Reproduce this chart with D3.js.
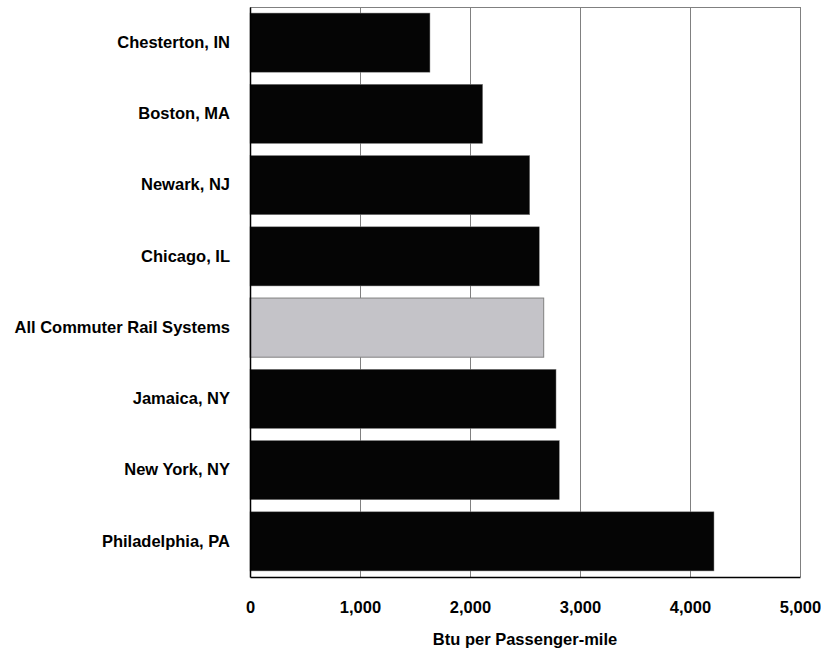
<!DOCTYPE html>
<html lang="en">
<head>
    <meta charset="UTF-8">
    <title>Btu per Passenger-mile</title>
    <script src="https://cdn.jsdelivr.net/npm/d3@7"></script>
    <style>
        body { margin: 0; background: #fff; }
        text { font-family: "Liberation Sans", Arial, sans-serif; font-weight: bold; fill: #000; }
    </style>
</head>
<body>
<script>
    let width = 821;
    let height = 652;

    // systems, top to bottom
    var cities = ["Chesterton, IN", "Boston, MA", "Newark, NJ", "Chicago, IL",
        "All Commuter Rail Systems", "Jamaica, NY", "New York, NY", "Philadelphia, PA"];
    var btu = [1636, 2115, 2543, 2630, 2670, 2782, 2812, 4218];
    var xTicks = [0, 1000, 2000, 3000, 4000, 5000];
    var highlight = "All Commuter Rail Systems";

    var margin = {top: 7, right: 21, bottom: 75, left: 250};
    var fontSize = "16.5px";

    var svg = d3.select("body").append("svg")
        .attr("width", width)
        .attr("height", height)

    var x = d3.scaleLinear()
        .domain([0, 5000])
        .range([margin.left, width - margin.right]);

    var y = d3.scaleBand()
        .domain(cities)
        .range([margin.top, height - margin.bottom])
        .paddingInner(0.17)
        .paddingOuter(0.085);

    // gridlines
    svg.append("g")
        .selectAll("line")
        .data(xTicks.slice(1))
        .enter()
        .append("line")
        .attr("x1", function (d) { return x(d) + 0.5; })
        .attr("x2", function (d) { return x(d) + 0.5; })
        .attr("y1", margin.top)
        .attr("y2", height - margin.bottom)
        .attr("stroke", "#808080")
        .attr("stroke-width", 1);

    // top border
    svg.append("line")
        .attr("x1", margin.left).attr("x2", width - margin.right)
        .attr("y1", margin.top + 0.5).attr("y2", margin.top + 0.5)
        .attr("stroke", "#808080");

    // bars
    svg.append("g")
        .selectAll("rect")
        .data(cities)
        .enter()
        .append("rect")
        .attr("x", x(0))
        .attr("y", function (d) { return y(d); })
        .attr("width", function (d, i) { return x(btu[i]) - x(0); })
        .attr("height", y.bandwidth())
        .attr("fill", function (d) { return d === highlight ? "#c4c3c8" : "#050505"; })
        .attr("stroke", "#808080")
        .attr("stroke-width", function (d) { return d === highlight ? 1 : 0.5; });

    // x axis
    var xAxis = svg.append("g")
        .attr("transform", "translate(0," + (height - margin.bottom) + ")")
        .call(d3.axisBottom(x).tickValues(xTicks).tickSize(0).tickPadding(24)
            .tickFormat(d3.format(",")));
    xAxis.select(".domain").attr("stroke", "#000").attr("stroke-width", 1.5);
    xAxis.selectAll("text").style("font-size", fontSize).attr("fill", "#000");

    // y axis
    var yAxis = svg.append("g")
        .attr("transform", "translate(" + margin.left + ",0)")
        .call(d3.axisLeft(y).tickSize(0).tickPadding(20));
    yAxis.select(".domain").attr("stroke", "#000").attr("stroke-width", 1.5);
    yAxis.selectAll("text").style("font-size", fontSize).attr("fill", "#000");

    // axis title
    svg.append("text")
        .attr("x", (x(0) + x(5000)) / 2)
        .attr("y", 645)
        .attr("text-anchor", "middle")
        .style("font-size", fontSize)
        .text("Btu per Passenger-mile");
</script>
</body>
</html>
